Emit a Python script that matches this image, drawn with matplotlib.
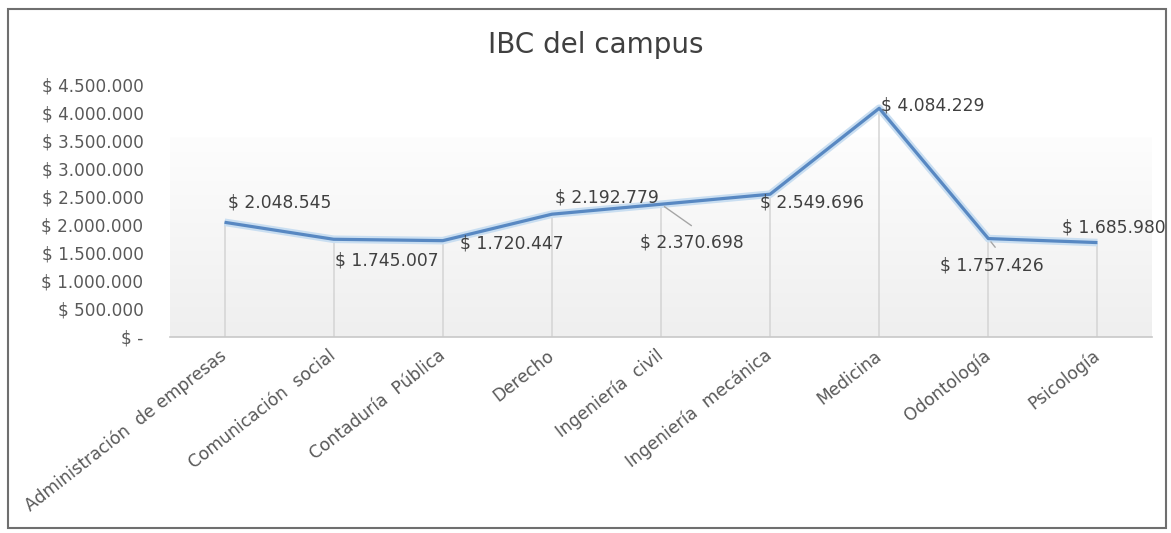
import numpy as np
import matplotlib
matplotlib.use("Agg")
import matplotlib.pyplot as plt
from matplotlib.patches import Rectangle

# Data
carreras = [
    "Administración  de empresas",
    "Comunicación  social",
    "Contaduría  Pública",
    "Derecho",
    "Ingeniería  civil",
    "Ingeniería  mecánica",
    "Medicina",
    "Odontología",
    "Psicología",
]
ibc = [2048545, 1745007, 1720447, 2192779, 2370698, 2549696, 4084229, 1757426, 1685980]
etiquetas = ["$ 2.048.545", "$ 1.745.007", "$ 1.720.447", "$ 2.192.779", "$ 2.370.698",
             "$ 2.549.696", "$ 4.084.229", "$ 1.757.426", "$ 1.685.980"]
y_ticks = [0, 500000, 1000000, 1500000, 2000000, 2500000, 3000000, 3500000, 4000000, 4500000]
y_labels = ["$ -", "$ 500.000", "$ 1.000.000", "$ 1.500.000", "$ 2.000.000", "$ 2.500.000",
            "$ 3.000.000", "$ 3.500.000", "$ 4.000.000", "$ 4.500.000"]

# label offsets in pixels (dx, dy) relative to each point, and leader lines
offsets = [(3, 20), (1, -21), (17, -3), (3, 17), (-21, -38), (-10, -8), (2, 3), (-48, -27), (-35, 15)]
leaders = [False, False, False, False, True, False, False, True, False]

W, H = 1171, 533
fig = plt.figure(figsize=(W / 100, H / 100), dpi=100)
ax = fig.add_axes([170 / W, 1 - 337 / H, (1152 - 170) / W, (337 - 85) / H])

x = np.arange(len(carreras))
ax.set_xlim(-0.5, len(carreras) - 0.5)
ax.set_ylim(0, 4500000)

# soft gray gradient "wall" behind the line
grad = np.linspace(1.0, 0.0, 100).reshape(-1, 1)
ax.imshow(grad, cmap=matplotlib.colors.LinearSegmentedColormap.from_list("g", ["#efefef", "#fdfdfd"]),
          extent=(-0.5, len(carreras) - 0.5, 0, 3570000), aspect="auto", zorder=0, origin="upper")

# drop lines
ax.vlines(x, 0, ibc, color="#d4d4d4", lw=1.1, zorder=1)

# line with glow
ax.plot(x, ibc, color="#c9def1", lw=5.5, solid_capstyle="butt", zorder=2)
ax.plot(x, ibc, color="#5888c2", lw=2.3, solid_capstyle="butt", zorder=3)

for i, (xi, yi) in enumerate(zip(x, ibc)):
    kw = {}
    if leaders[i]:
        kw["arrowprops"] = dict(arrowstyle="-", color="#a6a6a6", lw=1, relpos=(0.6, 1.0),
                                shrinkA=6, shrinkB=3)
    ax.annotate(etiquetas[i], (xi, yi), xytext=offsets[i], textcoords="offset pixels",
                ha="left", va="center", fontsize=12.3, color="#404040", zorder=4,
                annotation_clip=False, **kw)

ax.set_yticks(y_ticks)
ax.set_yticklabels(y_labels)
ax.set_xticks(x)
ax.set_xticklabels(carreras, rotation=38, ha="right", va="center", rotation_mode="anchor")
ax.tick_params(axis="y", length=0, pad=19, labelsize=12.2, labelcolor="#595959")
ax.tick_params(axis="x", length=0, pad=12, labelsize=12.3, labelcolor="#595959")

for side in ["left", "right", "top"]:
    ax.spines[side].set_visible(False)
ax.spines["bottom"].set_color("#c8c8c8")
ax.spines["bottom"].set_linewidth(1.2)
ax.set_facecolor("white")

fig.text(596 / W, 1 - 45 / H, "IBC del campus", ha="center", va="center",
         fontsize=20, color="#404040")

# outer chart frame
fig.add_artist(Rectangle((8 / W, 5 / H), (1166 - 8) / W, (528 - 9) / H,
                         transform=fig.transFigure, fill=False, edgecolor="#6f6f6f", lw=1.5))

fig.savefig("out.png", dpi=100)
